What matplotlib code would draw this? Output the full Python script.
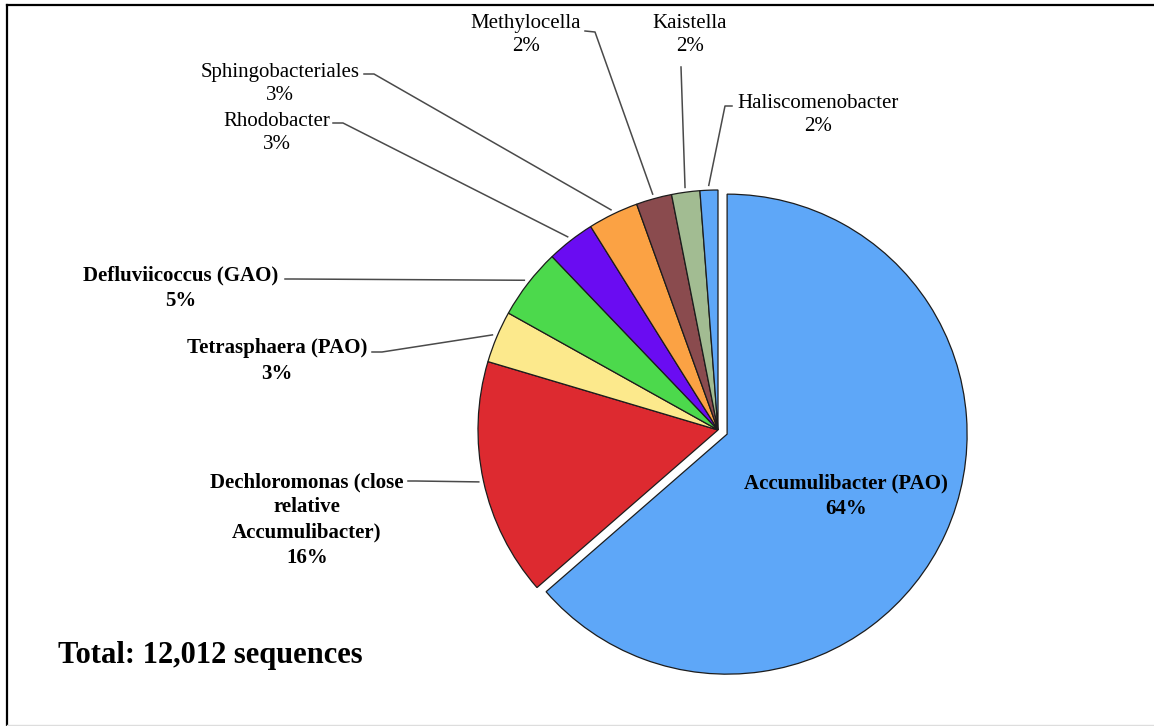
import matplotlib.pyplot as plt
import numpy as np

# slice data, clockwise from 12 o'clock
names = ['Accumulibacter (PAO)', 'Dechloromonas (close\nrelative\nAccumulibacter)',
         'Tetrasphaera (PAO)', 'Defluviicoccus (GAO)', 'Rhodobacter',
         'Sphingobacteriales', 'Methylocella', 'Kaistella', 'Haliscomenobacter']
shares = [63.6, 16.0, 3.5, 4.75, 3.25, 3.4, 2.4, 1.9, 1.2]
pct_labels = ['64%', '16%', '3%', '5%', '3%', '3%', '2%', '2%', '2%']
colors = ['#5EA7F8', '#DD2A30', '#FCE98C', '#4CD94C', '#6A0CF2',
          '#FBA244', '#8A4B4E', '#A2BC92', '#5EA7F8']
bold = [True, True, True, True, False, False, False, False, False]
total_text = 'Total: 12,012 sequences'

# layout in pixels (y from top)
W, H = 1154, 726
cx, cy, r = 718, 430, 240
label_xy = [(846, 496), (307, 520), (277, 361), (181, 288), (277, 133),
            (280, 84), (526, 35), (690, 35), (818, 115)]
# leader line start and knee, None = no leader
line_start = [None, [(408, 481), (416, 481)], [(372, 352), (382, 352)],
              [(285, 279), (293, 279)], [(333, 123), (343, 123)],
              [(364, 74), (374, 74)], [(585, 31), (595, 32)],
              [(681, 67)], [(732, 106), (725, 106)]]


def Y(y):
    return H - y


fig = plt.figure(figsize=(W / 100, H / 100), dpi=100)
ax = fig.add_axes([0, 0, 1, 1])

explode = [10] + [0] * (len(shares) - 1)
wedges, _ = ax.pie(shares, colors=colors, startangle=90, counterclock=False,
                   center=(cx, Y(cy)), radius=r, explode=explode,
                   wedgeprops=dict(edgecolor='#1c1c1c', linewidth=0.9))
ax.set_xlim(0, W)
ax.set_ylim(0, H)
ax.set_aspect('auto')
ax.axis('off')

for i, w in enumerate(wedges):
    txt = names[i] + '\n' + pct_labels[i]
    lx, ly = label_xy[i]
    ax.text(lx, Y(ly), txt, ha='center', va='center', fontsize=15,
            family='Liberation Serif', fontweight='bold' if bold[i] else 'normal',
            linespacing=1.35, color='black')
    if line_start[i] is None:
        continue
    ang = np.deg2rad((w.theta1 + w.theta2) / 2)
    ex = w.center[0] + r * 1.02 * np.cos(ang)
    ey = w.center[1] + r * 1.02 * np.sin(ang)
    xs = [p[0] for p in line_start[i]] + [ex]
    ys = [Y(p[1]) for p in line_start[i]] + [ey]
    ax.plot(xs, ys, color='#4a4a4a', lw=1.1)

ax.text(58, Y(656), total_text, ha='left', va='center', fontsize=22,
        family='Liberation Serif', fontweight='bold')

# frame
ax.plot([7, 7], [Y(726), Y(5)], color='black', lw=1.6, clip_on=False)
ax.plot([7, W], [Y(5), Y(5)], color='black', lw=1.6, clip_on=False)
ax.plot([7, W], [Y(725), Y(725)], color='#dddddd', lw=1, clip_on=False)

fig.savefig('out.png', dpi=100)
